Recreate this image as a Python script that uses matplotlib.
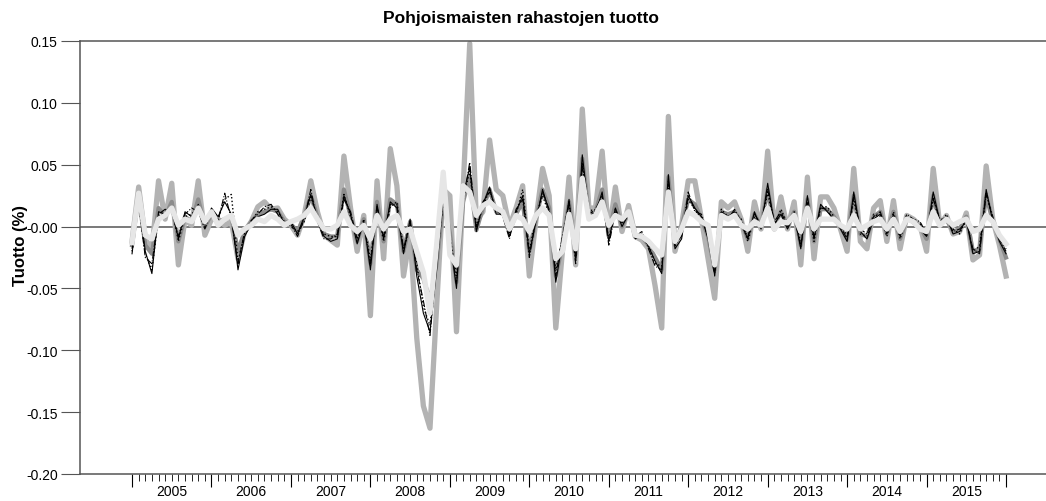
import matplotlib
matplotlib.use("Agg")
import matplotlib.pyplot as plt
import numpy as np

plt.rcParams['font.family'] = ['Liberation Sans', 'DejaVu Sans']

start_year = 2005
year_labels = ['2005', '2006', '2007', '2008', '2009', '2010', '2011', '2012', '2013', '2014', '2015']
y_ticks = [-0.20, -0.15, -0.10, -0.05, 0.0, 0.05, 0.10, 0.15]
y_tick_labels = ['-0.20', '-0.15', '-0.10', '-0.05', '-0.00', '0.05', '0.10', '0.15']

# medium grey, widest swings
fund_a = [-0.012, 0.032, -0.010, -0.019, 0.037, 0.006, 0.035, -0.031, 0.006, 0.001, 0.037, -0.007,
          0.006, 0.006, 0.001, 0.004, -0.026, -0.004, 0.004, 0.016, 0.020, 0.014, 0.015, 0.006,
          0.001, -0.007, 0.009, 0.037, 0.012, -0.007, -0.011, -0.015, 0.057, 0.015, -0.020, 0.009,
          -0.072, 0.037, -0.026, 0.063, 0.033, -0.040, -0.007, -0.090, -0.145, -0.163, -0.065, 0.030,
          0.025, -0.085, 0.030, 0.148, 0.005, 0.012, 0.070, 0.030, 0.025, 0.000, 0.015, 0.033,
          -0.040, 0.005, 0.047, 0.025, -0.082, -0.020, 0.040, -0.031, 0.095, 0.015, 0.015, 0.061,
          -0.007, 0.032, -0.004, 0.017, -0.008, -0.011, -0.018, -0.048, -0.082, 0.089, -0.020, 0.001,
          0.037, 0.037, 0.006, -0.026, -0.058, 0.020, 0.015, 0.020, 0.006, -0.020, 0.020, -0.002,
          0.061, -0.002, 0.024, -0.002, 0.020, -0.031, 0.040, -0.026, 0.024, 0.024, 0.015, -0.002,
          -0.020, 0.047, -0.012, -0.018, 0.015, 0.021, -0.012, 0.021, -0.018, 0.009, 0.006, 0.001,
          -0.020, 0.047, 0.001, 0.009, -0.006, -0.004, 0.011, -0.027, -0.023, 0.049, 0.006, -0.015, -0.040]

# dark grey
fund_b = [-0.015, 0.025, -0.015, -0.022, 0.015, 0.008, 0.020, -0.012, 0.008, 0.004, 0.022, 0.000,
          0.010, 0.004, 0.006, 0.008, -0.020, -0.004, 0.004, 0.010, 0.012, 0.014, 0.012, 0.004,
          0.002, -0.004, 0.008, 0.025, 0.008, -0.006, -0.008, -0.008, 0.030, 0.008, -0.012, 0.006,
          -0.030, 0.020, -0.012, 0.022, 0.018, -0.020, 0.004, -0.035, -0.042, -0.060, -0.030, 0.020,
          -0.005, -0.045, 0.020, 0.040, -0.003, 0.015, 0.030, 0.012, 0.012, -0.004, 0.010, 0.020,
          -0.020, 0.006, 0.030, 0.015, -0.040, -0.015, 0.020, -0.022, 0.055, 0.010, 0.012, 0.030,
          -0.005, 0.018, 0.000, 0.012, -0.008, -0.008, -0.015, -0.025, -0.035, 0.040, -0.015, 0.000,
          0.022, 0.018, 0.006, -0.008, -0.035, 0.012, 0.010, 0.012, 0.004, -0.010, 0.010, 0.000,
          0.030, 0.000, 0.012, 0.000, 0.012, -0.015, 0.022, -0.012, 0.014, 0.014, 0.008, 0.000,
          -0.010, 0.025, -0.006, -0.008, 0.008, 0.012, -0.006, 0.012, -0.010, 0.006, 0.004, 0.000,
          -0.010, 0.025, 0.002, 0.006, -0.004, -0.002, 0.008, -0.020, -0.018, 0.025, 0.004, -0.010, -0.025]

# black solid
fund_c = [-0.022, 0.022, -0.020, -0.038, 0.012, 0.010, 0.015, -0.010, 0.012, 0.008, 0.018, 0.002,
          0.015, 0.008, 0.020, 0.010, -0.035, -0.008, 0.002, 0.008, 0.010, 0.014, 0.014, 0.002,
          0.004, -0.006, 0.008, 0.026, 0.006, -0.008, -0.012, -0.010, 0.025, 0.010, -0.014, 0.004,
          -0.035, 0.018, -0.010, 0.020, 0.015, -0.022, 0.006, -0.040, -0.070, -0.085, -0.035, 0.022,
          -0.010, -0.050, 0.025, 0.048, -0.004, 0.018, 0.032, 0.010, 0.010, -0.008, 0.012, 0.025,
          -0.022, 0.004, 0.030, 0.012, -0.045, -0.012, 0.022, -0.025, 0.058, 0.012, 0.010, 0.028,
          -0.012, 0.015, 0.000, 0.010, -0.010, -0.006, -0.016, -0.028, -0.038, 0.042, -0.018, -0.010,
          0.025, 0.015, 0.008, -0.010, -0.040, 0.012, 0.008, 0.012, 0.002, -0.010, 0.012, -0.002,
          0.035, 0.002, 0.010, -0.002, 0.010, -0.018, 0.025, -0.010, 0.018, 0.012, 0.006, -0.002,
          -0.012, 0.028, -0.004, -0.010, 0.006, 0.010, -0.006, 0.010, -0.008, 0.008, 0.002, -0.002,
          -0.008, 0.028, 0.004, 0.008, -0.006, -0.004, 0.006, -0.022, -0.020, 0.030, 0.004, -0.012, -0.022]

# black dash-dot
fund_d = [-0.018, 0.020, -0.025, -0.030, 0.010, 0.014, 0.012, -0.008, 0.010, 0.015, 0.012, -0.002,
          0.012, 0.005, 0.027, 0.006, -0.030, -0.004, 0.005, 0.010, 0.016, 0.018, 0.010, 0.000,
          0.002, -0.008, 0.006, 0.030, 0.004, -0.010, -0.010, -0.006, 0.022, 0.012, -0.010, 0.002,
          -0.030, 0.015, -0.008, 0.018, 0.018, -0.018, 0.004, -0.035, -0.060, -0.088, -0.030, 0.025,
          -0.012, -0.045, 0.020, 0.052, 0.000, 0.020, 0.028, 0.014, 0.008, -0.010, 0.014, 0.022,
          -0.025, 0.006, 0.028, 0.014, -0.040, -0.008, 0.018, -0.030, 0.050, 0.010, 0.014, 0.025,
          -0.015, 0.012, 0.004, 0.008, -0.008, -0.004, -0.018, -0.032, -0.035, 0.038, -0.014, -0.008,
          0.028, 0.012, 0.010, -0.006, -0.038, 0.010, 0.006, 0.014, 0.004, -0.008, 0.010, 0.002,
          0.030, 0.004, 0.012, 0.000, 0.008, -0.016, 0.020, -0.008, 0.015, 0.014, 0.004, 0.000,
          -0.010, 0.024, -0.002, -0.006, 0.008, 0.012, -0.004, 0.008, -0.006, 0.010, 0.006, 0.004,
          -0.006, 0.022, 0.006, 0.006, -0.004, -0.002, 0.004, -0.018, -0.022, 0.026, 0.008, -0.010, -0.020]

# black dotted
fund_e = [-0.020, 0.018, -0.022, -0.035, 0.008, 0.012, 0.016, -0.012, 0.008, 0.010, 0.016, 0.000,
          0.014, 0.006, 0.022, 0.026, -0.028, -0.006, 0.004, 0.012, 0.014, 0.016, 0.012, 0.004,
          0.000, -0.004, 0.004, 0.024, 0.008, -0.006, -0.008, -0.008, 0.026, 0.008, -0.012, 0.006,
          -0.028, 0.016, -0.012, 0.016, 0.020, -0.020, 0.002, -0.030, -0.065, -0.080, -0.028, 0.020,
          -0.008, -0.040, 0.022, 0.045, -0.002, 0.016, 0.030, 0.012, 0.012, -0.006, 0.010, 0.030,
          -0.020, 0.008, 0.025, 0.010, -0.035, -0.010, 0.020, -0.028, 0.052, 0.014, 0.012, 0.022,
          -0.010, 0.014, 0.002, 0.012, -0.006, -0.008, -0.014, -0.030, -0.032, 0.035, -0.016, -0.006,
          0.022, 0.014, 0.006, -0.008, -0.036, 0.014, 0.008, 0.010, 0.006, -0.012, 0.008, 0.000,
          0.028, 0.000, 0.014, 0.002, 0.012, -0.014, 0.018, -0.012, 0.016, 0.016, 0.008, 0.002,
          -0.008, 0.022, -0.006, -0.008, 0.010, 0.008, -0.008, 0.012, -0.010, 0.006, 0.004, 0.002,
          -0.008, 0.024, 0.002, 0.010, -0.002, -0.006, 0.006, -0.020, -0.016, 0.028, 0.006, -0.008, -0.018]

# light grey, smallest swings (on top)
fund_f = [-0.013, 0.027, -0.007, -0.010, 0.006, 0.009, 0.015, 0.001, 0.006, 0.004, 0.015, 0.004,
          0.012, 0.001, 0.006, 0.009, -0.007, -0.002, 0.001, 0.006, 0.004, 0.009, 0.006, 0.001,
          0.004, 0.006, 0.009, 0.015, 0.006, -0.002, -0.002, 0.001, 0.012, 0.001, -0.004, 0.001,
          -0.010, 0.009, -0.002, 0.006, 0.009, -0.004, -0.002, -0.020, -0.037, -0.070, -0.015, 0.044,
          -0.023, -0.031, 0.033, 0.028, 0.009, 0.017, 0.020, 0.015, 0.012, -0.002, 0.009, 0.006,
          -0.004, 0.009, 0.015, 0.009, -0.026, -0.020, 0.010, -0.018, 0.039, 0.006, 0.009, 0.020,
          0.001, 0.009, 0.006, 0.012, -0.007, -0.008, -0.012, -0.018, -0.023, 0.028, -0.012, -0.002,
          0.012, 0.009, 0.004, 0.001, -0.031, 0.009, 0.006, 0.009, 0.001, -0.002, 0.004, 0.001,
          0.015, -0.002, 0.004, 0.003, 0.009, -0.004, 0.015, -0.002, 0.006, 0.006, 0.006, 0.001,
          -0.002, 0.009, -0.002, 0.001, 0.004, 0.006, -0.002, 0.006, -0.004, 0.006, 0.004, -0.002,
          -0.004, 0.012, 0.001, 0.006, 0.001, 0.004, 0.006, -0.004, -0.002, 0.009, 0.004, -0.007, -0.014]

x = start_year + np.arange(len(fund_a)) / 12.0

fig = plt.figure(figsize=(10.46, 5.02), dpi=100)
ax = fig.add_axes([80 / 1046, 1 - 475 / 502, (1046 - 80) / 1046, (475 - 42) / 502])

ax.axhline(0, color='#6e6e6e', lw=1.3, zorder=1)
ax.plot(x, fund_a, color='#b3b3b3', lw=3.8, zorder=2)
ax.plot(x, fund_b, color='#8c8c8c', lw=3.0, zorder=3)
ax.plot(x, fund_c, color='black', lw=0.8, ls='-', zorder=4)
ax.plot(x, fund_d, color='black', lw=0.8, ls='-.', zorder=4)
ax.plot(x, fund_e, color='black', lw=1.0, ls=':', zorder=4)
ax.plot(x, fund_f, color='#e6e6e6', lw=3.8, zorder=5)

ax.set_xlim(2004.345, 2016.503)
ax.set_ylim(-0.20, 0.15)

ax.spines['right'].set_visible(False)
for s in ['left', 'top', 'bottom']:
    ax.spines[s].set_color('#555555')
    ax.spines[s].set_linewidth(1.1)

ax.set_yticks(y_ticks)
ax.set_yticklabels(y_tick_labels)
ax.tick_params(axis='y', length=14, width=0.8, color='#555555', labelsize=10, pad=2)

years = np.arange(start_year, start_year + len(year_labels) + 1)
ax.set_xticks(years)
ax.set_xticklabels([])
ax.set_xticks(start_year + np.arange(len(year_labels) * 12 + 1) / 12.0, minor=True)
ax.tick_params(axis='x', which='major', length=9, width=0.8, color='black')
ax.tick_params(axis='x', which='minor', length=5, width=0.6, color='black')
for yr, lab in zip(years[:-1], year_labels):
    ax.text(yr + 0.5, -0.039, lab, transform=ax.get_xaxis_transform(), ha='center', va='center', fontsize=10)

fig.text(0.498, 1 - 18 / 502, 'Pohjoismaisten rahastojen tuotto', ha='center', va='center',
         fontsize=12.5, fontweight='bold')
fig.text(21 / 1046, 1 - 245 / 502, 'Tuotto (%)', ha='center', va='center', rotation=90,
         fontsize=12, fontweight='bold')

fig.savefig('out.png', dpi=100)
